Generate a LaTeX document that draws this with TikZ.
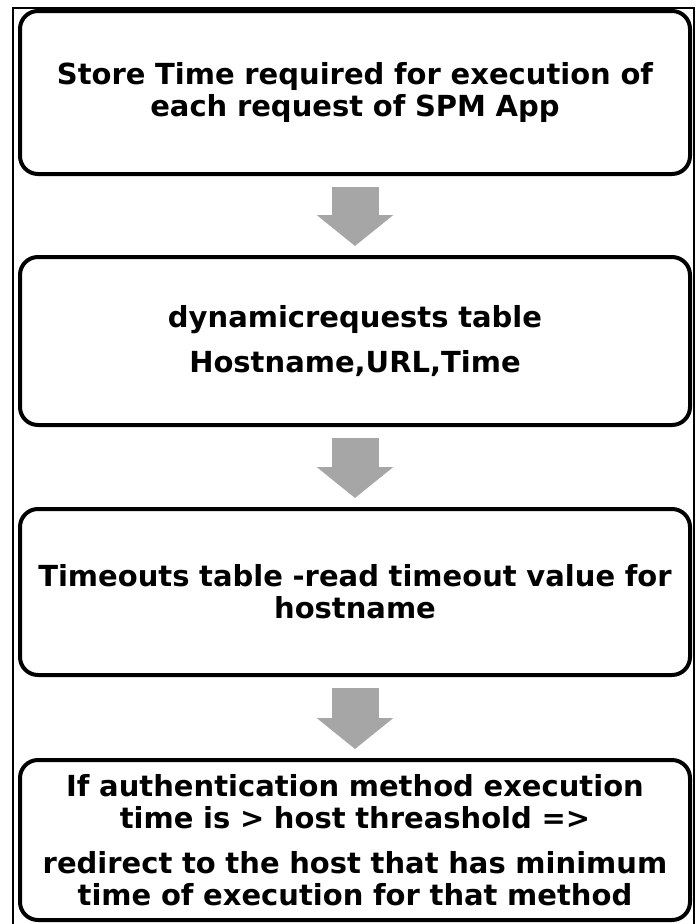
\documentclass[tikz,border=0pt]{standalone}
\usepackage{fontspec}
\setmainfont{DejaVu Sans}
\usetikzlibrary{arrows.meta}

\definecolor{flowgray}{RGB}{166,166,166}

\begin{document}
\begin{tikzpicture}[x=1pt, y=-1pt,
        stepbox/.style={draw=black, line width=4pt, rounded corners=18pt,
            minimum width=670pt, text width=660pt, align=center, inner sep=0pt,
            font=\bfseries\fontsize{29}{32}\selectfont},
        flow/.style={draw=flowgray, line width=47pt, shorten <=11pt, shorten >=9pt,
            -{Triangle[width=75pt, length=31pt]}}]
            \useasboundingbox (0,0) rectangle (699,924);
            \draw[black, line width=1.5pt] (13,930) -- (13,8) -- (694,8) -- (694,930);

            \node[stepbox, minimum height=163pt] (store) at (355,92.5)
                {Store Time required for execution of\\ each request of SPM App};
            \node[stepbox, minimum height=168pt] (dynreq) at (355,341)
                {dynamicrequests table\\[13pt] Hostname,URL,Time};
            \node[stepbox, minimum height=166pt] (timeouts) at (355,592)
                {Timeouts table -read timeout value for\\ hostname};
            \node[stepbox, minimum height=160pt] (redirect) at (355,840)
                {If authentication method execution\\ time is > host threashold =>\\[13pt]
                 redirect to the host that has minimum\\ time of execution for that method};

            \draw[flow] (store) -- (dynreq);
            \draw[flow] (dynreq) -- (timeouts);
            \draw[flow] (timeouts) -- (redirect);
        \end{tikzpicture}
\end{document}
